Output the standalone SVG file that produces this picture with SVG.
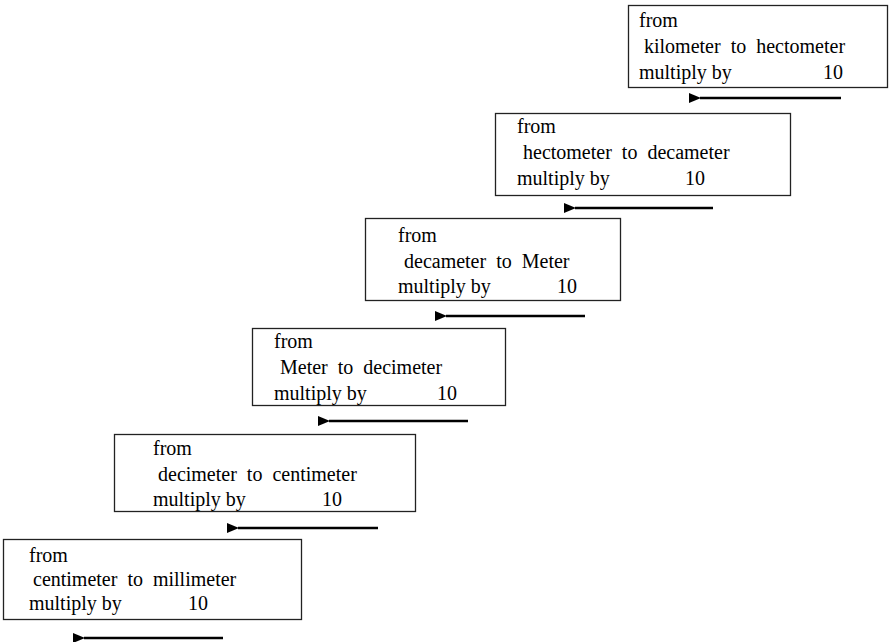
<svg xmlns="http://www.w3.org/2000/svg" width="895" height="642" viewBox="0 0 895 642">
<defs>
<marker id="ah" markerUnits="userSpaceOnUse" markerWidth="14" markerHeight="10" refX="1" refY="5" orient="auto">
<path d="M12,0 L0,5 L12,10 Z" fill="#000"/>
</marker>
<style>
.box{fill:#fff;stroke:#222;stroke-width:1.3}
.t{font-size:20px;fill:#000;white-space:pre}
.arr{stroke:#000;stroke-width:2.6;fill:none}
</style>
</defs>
<rect width="895" height="642" fill="#fff"/>
<g font-family="'Liberation Serif', 'Times New Roman', 'DejaVu Serif', serif">
<g id="node1">
<rect class="box" x="628.5" y="5.5" width="259" height="82"/>
<text class="t" x="639" y="27">from</text>
<text class="t" x="644" y="53" xml:space="preserve">kilometer  to  hectometer</text>
<text class="t" x="639" y="79">multiply by</text>
<text class="t" x="823" y="79">10</text>
</g>
<g id="node2">
<rect class="box" x="495.5" y="113.5" width="295" height="82"/>
<text class="t" x="517" y="133">from</text>
<text class="t" x="523" y="159" xml:space="preserve">hectometer  to  decameter</text>
<text class="t" x="517" y="185">multiply by</text>
<text class="t" x="685" y="185">10</text>
</g>
<g id="node3">
<rect class="box" x="365.5" y="218.5" width="255" height="82"/>
<text class="t" x="398" y="242">from</text>
<text class="t" x="404" y="268" xml:space="preserve">decameter  to  Meter</text>
<text class="t" x="398" y="293">multiply by</text>
<text class="t" x="557" y="293">10</text>
</g>
<g id="node4">
<rect class="box" x="252.5" y="328.5" width="253" height="77"/>
<text class="t" x="274" y="348">from</text>
<text class="t" x="280" y="374" xml:space="preserve">Meter  to  decimeter</text>
<text class="t" x="274" y="400">multiply by</text>
<text class="t" x="437" y="400">10</text>
</g>
<g id="node5">
<rect class="box" x="114.5" y="434.5" width="301" height="77"/>
<text class="t" x="153" y="455">from</text>
<text class="t" x="158" y="481" xml:space="preserve">decimeter  to  centimeter</text>
<text class="t" x="153" y="506">multiply by</text>
<text class="t" x="322" y="506">10</text>
</g>
<g id="node6">
<rect class="box" x="3.5" y="539.5" width="298" height="80"/>
<text class="t" x="29" y="562">from</text>
<text class="t" x="33" y="586" xml:space="preserve">centimeter  to  millimeter</text>
<text class="t" x="29" y="610">multiply by</text>
<text class="t" x="188" y="610">10</text>
</g>
</g>
<g id="connectors">
<line class="arr" x1="841" y1="98" x2="700" y2="98" marker-end="url(#ah)"/>
<line class="arr" x1="713" y1="208" x2="575" y2="208" marker-end="url(#ah)"/>
<line class="arr" x1="585" y1="316" x2="446" y2="316" marker-end="url(#ah)"/>
<line class="arr" x1="468" y1="421" x2="329" y2="421" marker-end="url(#ah)"/>
<line class="arr" x1="378" y1="528" x2="238" y2="528" marker-end="url(#ah)"/>
<line class="arr" x1="223" y1="638" x2="84" y2="638" marker-end="url(#ah)"/>
</g>
</svg>
